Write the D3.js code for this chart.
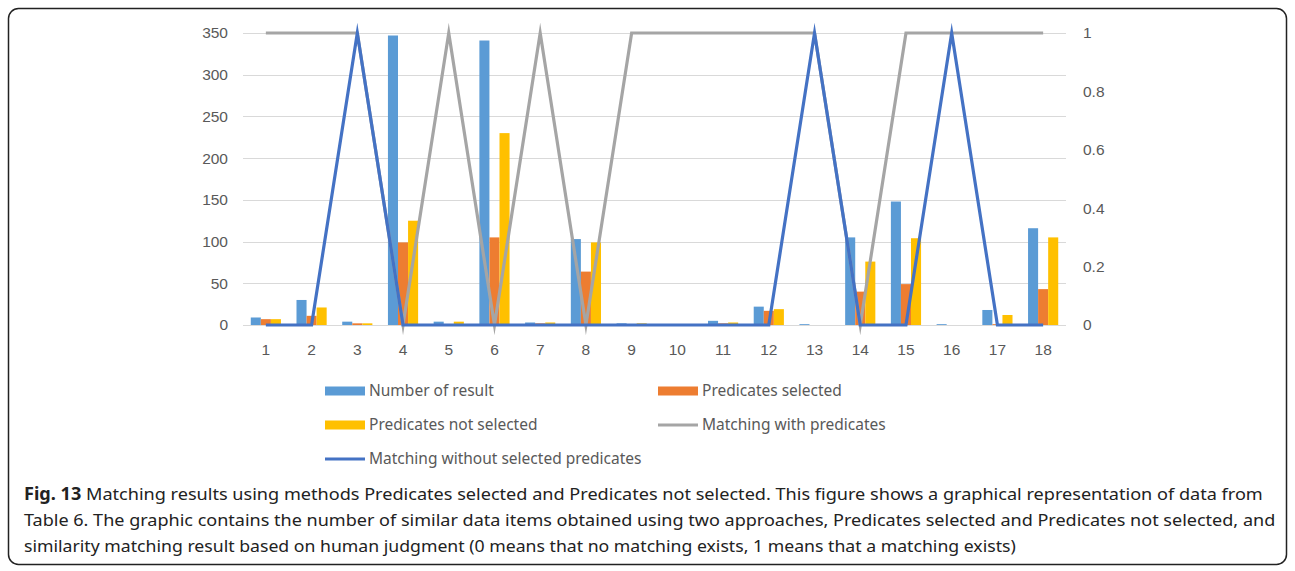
<!DOCTYPE html><html lang="en"><head><meta charset="UTF-8"><title>Fig. 13 Matching results</title><script src="https://d3js.org/d3.v7.min.js"></script><style>
        body { margin: 0; background: #fff; }
        svg { display: block; font-family: "Noto Sans", "Open Sans", sans-serif; }
        .tick-label { font-size: 15.5px; fill: #595959; }
        .legend text { font-size: 15.5px; fill: #595959; }
        .grid line { stroke: #d9d9d9; stroke-width: 1; }
        .caption { font-size: 17px; fill: #222; }
    </style></head><body><svg id="chart"></svg><script>
        // data
        const categories = ["1","2","3","4","5","6","7","8","9","10","11","12","13","14","15","16","17","18"];
        const numberOfResult   = [9, 30, 4, 347, 4, 341, 3, 103, 2, 0, 5, 22, 1, 105, 148, 1, 18, 116];
        const predSelected     = [7, 11, 2, 99, 0, 105, 2, 64, 0, 0, 2, 17, 0, 40, 49, 0, 1, 43];
        const predNotSelected  = [7, 21, 2, 125, 4, 230, 3, 99, 2, 0, 3, 19, 0, 76, 104, 0, 12, 105];
        const matchWith        = [1, 1, 1, 0, 1, 0, 1, 0, 1, 1, 1, 1, 1, 0, 1, 1, 1, 1];
        const matchWithout     = [0, 0, 1, 0, 0, 0, 0, 0, 0, 0, 0, 0, 1, 0, 0, 1, 0, 0];
        const leftTicks  = [0, 50, 100, 150, 200, 250, 300, 350];
        const rightTicks = [0, 0.2, 0.4, 0.6, 0.8, 1];
        const captionLines = [
            "Matching results using methods Predicates selected and Predicates not selected. This figure shows a graphical representation of data from",
            "Table 6. The graphic contains the number of similar data items obtained using two approaches, Predicates selected and Predicates not selected, and",
            "similarity matching result based on human judgment (0 means that no matching exists, 1 means that a matching exists)"
        ];

        const barSeries = [
            { name: "Number of result", values: numberOfResult, color: "#5b9bd5" },
            { name: "Predicates selected", values: predSelected, color: "#ed7d31" },
            { name: "Predicates not selected", values: predNotSelected, color: "#ffc000" }
        ];
        const lineSeries = [
            { name: "Matching with predicates", values: matchWith, color: "#a5a5a5" },
            { name: "Matching without selected predicates", values: matchWithout, color: "#4472c4" }
        ];

        const W = 1295, H = 571;
        const svg = d3.select("#chart").attr("width", W).attr("height", H);

        // figure frame
        svg.append("rect")
            .attr("x", 8.5).attr("y", 8.5)
            .attr("width", 1278).attr("height", 556)
            .attr("rx", 10)
            .attr("fill", "none").attr("stroke", "#222").attr("stroke-width", 1.5);

        const x = d3.scaleBand().domain(categories).range([243, 1066])
            .paddingInner(0.34).paddingOuter(0.17);
        const xs = d3.scaleBand().domain(barSeries.map(d => d.name)).range([0, x.bandwidth()]);
        const yL = d3.scaleLinear().domain([0, 350]).range([325, 33]);
        const yR = d3.scaleLinear().domain([0, 1]).range([325, 33]);

        // gridlines
        svg.append("g").attr("class", "grid")
            .selectAll("line").data(leftTicks).join("line")
            .attr("x1", 243).attr("x2", 1066)
            .attr("y1", d => Math.round(yL(d)) + 0.5).attr("y2", d => Math.round(yL(d)) + 0.5);

        const styleTicks = ax => {
            ax.select(".domain").remove();
            ax.selectAll("text").attr("class", "tick-label")
                .attr("fill", null).attr("font-family", null).attr("font-size", null);
        };

        // left axis
        const axL = svg.append("g").attr("transform", "translate(243,0)")
            .call(d3.axisLeft(yL).tickValues(leftTicks).tickSize(0).tickPadding(15));
        styleTicks(axL);

        // right axis
        const axR = svg.append("g").attr("transform", "translate(1066,0)")
            .call(d3.axisRight(yR).tickValues(rightTicks).tickSize(0).tickPadding(17).tickFormat(d3.format("~g")));
        styleTicks(axR);

        // bottom axis labels
        const axB = svg.append("g").attr("transform", "translate(0,325)")
            .call(d3.axisBottom(x).tickSize(0).tickPadding(19));
        styleTicks(axB);

        // bars
        barSeries.forEach(s => {
            svg.append("g").selectAll("rect").data(s.values).join("rect")
                .attr("x", (d, i) => x(categories[i]) + xs(s.name))
                .attr("width", xs.bandwidth())
                .attr("y", d => yL(d))
                .attr("height", d => yL(0) - yL(d))
                .attr("fill", s.color);
        });

        // lines
        const line = d3.line()
            .x((d, i) => x(categories[i]) + x.bandwidth() / 2)
            .y(d => yR(d));
        lineSeries.forEach(s => {
            svg.append("path").datum(s.values)
                .attr("d", line)
                .attr("fill", "none")
                .attr("stroke", s.color)
                .attr("stroke-width", 3.2)
                .attr("stroke-linejoin", "miter")
                .attr("stroke-miterlimit", 20);
        });

        // legend
        const legendItems = [
            { s: barSeries[0], type: "bar", x: 325, y: 391 },
            { s: barSeries[1], type: "bar", x: 658, y: 391 },
            { s: barSeries[2], type: "bar", x: 325, y: 425 },
            { s: lineSeries[0], type: "line", x: 658, y: 425 },
            { s: lineSeries[1], type: "line", x: 325, y: 459 }
        ];
        const lg = svg.append("g").attr("class", "legend")
            .selectAll("g").data(legendItems).join("g")
            .attr("transform", d => `translate(${d.x},${d.y})`);
        lg.filter(d => d.type === "bar").append("rect")
            .attr("x", 0).attr("y", -4.5).attr("width", 40).attr("height", 9)
            .attr("fill", d => d.s.color);
        lg.filter(d => d.type === "line").append("line")
            .attr("x1", 0).attr("x2", 40).attr("y1", 0).attr("y2", 0)
            .attr("stroke", d => d.s.color).attr("stroke-width", 3);
        lg.append("text").attr("x", 44).attr("dy", "0.35em").text(d => d.s.name);

        // caption, squeezed horizontally to the condensed look of the original
        const capTargets = [1240, 1252, 992];
        captionLines.forEach((t, i) => {
            const g = svg.append("g");
            const txt = g.append("text").attr("class", "caption")
                .attr("x", 0).attr("y", 500 + i * 26);
            if (i === 0) {
                txt.append("tspan").attr("font-weight", "bold").text("Fig. 13");
                txt.append("tspan").text(" " + t);
            } else {
                txt.text(t);
            }
            const w = txt.node().getComputedTextLength();
            g.attr("transform", `translate(24,0) scale(${capTargets[i] / w},1)`);
        });
    </script></body></html>
